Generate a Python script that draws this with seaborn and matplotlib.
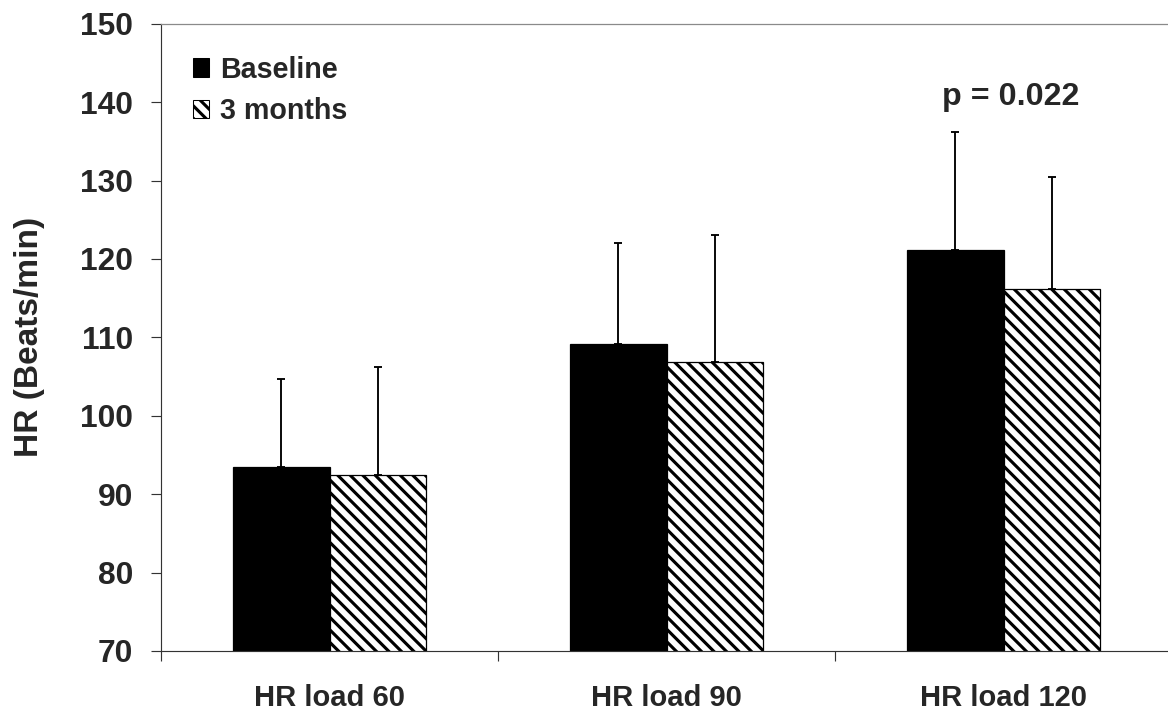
import matplotlib
matplotlib.use("Agg")
import matplotlib.pyplot as plt
from matplotlib.patches import Patch
import numpy as np
import pandas as pd
import seaborn as sns

# Heart rate at three exercise loads, baseline vs. after 3 months (mean + SD)
categories = ["HR load 60", "HR load 90", "HR load 120"]
groups = ["Baseline", "3 months"]
baseline_mean = [93.5, 109.2, 121.1]
baseline_sd = [11.2, 12.8, 15.1]
month3_mean = [92.5, 106.8, 116.2]
month3_sd = [13.7, 16.3, 14.2]
y_ticks = [70, 80, 90, 100, 110, 120, 130, 140, 150]
p_label = "p = 0.022"

DPI = 75
HATCH = "\\\\"
sns.set_style("ticks")
plt.rcParams["font.family"] = ["Liberation Sans", "DejaVu Sans"]
plt.rcParams["font.weight"] = "bold"
plt.rcParams["hatch.linewidth"] = 3.0
plt.rcParams["hatch.color"] = "black"

df = pd.DataFrame({
    "load": categories * 2,
    "group": [groups[0]] * 3 + [groups[1]] * 3,
    "hr": baseline_mean + month3_mean,
})
sds = {groups[0]: baseline_sd, groups[1]: month3_sd}

fig = plt.figure(figsize=(1168 / DPI, 713 / DPI), dpi=DPI)
ax = fig.add_axes([161 / 1168, 62 / 713, (1172 - 161) / 1168, (651 - 23.8) / 713])

sns.barplot(data=df, x="load", y="hr", hue="group", order=categories,
            hue_order=groups, palette=["black", "white"], width=0.575,
            errorbar=None, edgecolor="black", linewidth=1.2, legend=False, ax=ax)

# hatch the follow-up bars and add upward-only SD whiskers
for cont, g in zip(ax.containers, groups):
    xs, tops = [], []
    for bar in cont:
        if g == groups[1]:
            bar.set_hatch(HATCH)
        xs.append(bar.get_x() + bar.get_width() / 2)
        tops.append(bar.get_height() + bar.get_y())
    sd = np.asarray(sds[g])
    ax.errorbar(xs, tops, yerr=[np.zeros_like(sd), sd], fmt="none",
                ecolor="black", elinewidth=1.8, capsize=3.6, capthick=1.8,
                zorder=1)

ax.set_ylim(70, 150)
ax.set_xlim(-0.5, 2.5)
ax.set_yticks(y_ticks)
ax.set_yticklabels([str(t) for t in y_ticks], fontsize=30.5, fontweight="bold")
ax.set_xticks(range(len(categories)))
ax.set_xticklabels(categories, fontsize=28, fontweight="bold")
ax.set_xticks([-0.5, 0.5, 1.5, 2.5], minor=True)
ax.tick_params(axis="x", which="major", length=0, pad=31.5)
ax.tick_params(axis="x", which="minor", length=10, width=1.1, color="#333333",
               direction="out")
ax.tick_params(axis="y", length=10, width=1.1, color="#333333", pad=17,
               direction="out")
ax.set_xlabel("")
ax.set_ylabel("HR (Beats/min)", fontsize=32.2, fontweight="bold")
ax.yaxis.set_label_coords(-0.1147, 0.5)

for side in ["left", "bottom"]:
    ax.spines[side].set_color("#333333")
    ax.spines[side].set_linewidth(1.1)
ax.spines["top"].set_color("#8a8a8a")
ax.spines["top"].set_linewidth(1.2)
ax.spines["right"].set_visible(False)

ax.text(2.02, 139.6, p_label, ha="center", va="baseline", fontsize=31,
        fontweight="bold")

handles = [Patch(facecolor="black", edgecolor="black", linewidth=1.0),
           Patch(facecolor="white", edgecolor="black", linewidth=1.0, hatch=HATCH)]
ax.legend(handles, groups, loc="upper left", bbox_to_anchor=(0.032, 0.949),
          frameon=False, prop={"family": "Liberation Sans", "weight": "bold",
                               "size": 27.5},
          handlelength=0.56, handleheight=0.62, handletextpad=0.36,
          labelspacing=0.47, borderaxespad=0.0, borderpad=0.0)

fig.savefig("out.png", dpi=DPI)
